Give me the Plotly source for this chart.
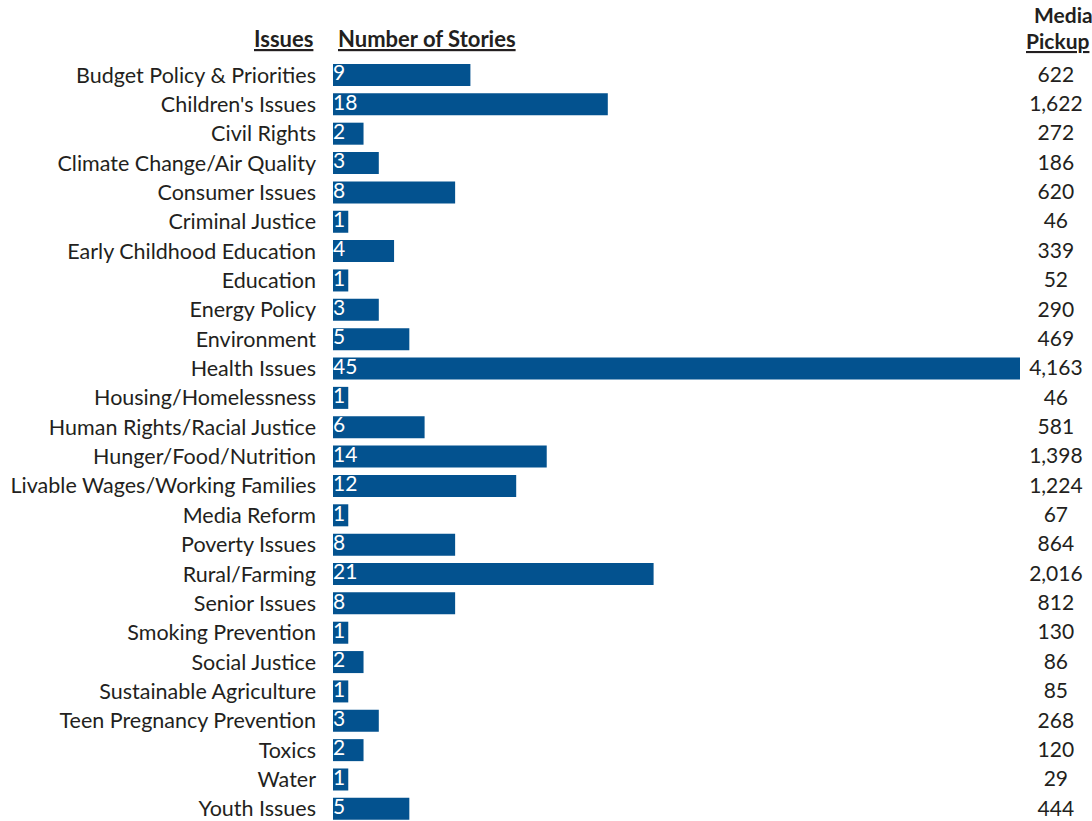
import plotly.graph_objects as go

issues = ["Budget Policy & Priorities", "Children's Issues", "Civil Rights", "Climate Change/Air Quality",
          "Consumer Issues", "Criminal Justice", "Early Childhood Education", "Education", "Energy Policy",
          "Environment", "Health Issues", "Housing/Homelessness", "Human Rights/Racial Justice",
          "Hunger/Food/Nutrition", "Livable Wages/Working Families", "Media Reform", "Poverty Issues",
          "Rural/Farming", "Senior Issues", "Smoking Prevention", "Social Justice", "Sustainable Agriculture",
          "Teen Pregnancy Prevention", "Toxics", "Water", "Youth Issues"]
stories = [9, 18, 2, 3, 8, 1, 4, 1, 3, 5, 45, 1, 6, 14, 12, 1, 8, 21, 8, 1, 2, 1, 3, 2, 1, 5]
pickup = [622, 1622, 272, 186, 620, 46, 339, 52, 290, 469, 4163, 46, 581, 1398, 1224, 67, 864, 2016,
          812, 130, 86, 85, 268, 120, 29, 444]

FONT = "Lato"
TXT = "#231f20"
BAR = "#03528f"

idx = list(range(len(issues)))

fig = go.Figure()
fig.add_trace(go.Bar(
    x=stories, y=idx, orientation="h", width=0.75,
    marker=dict(color=BAR, line=dict(width=0)),
    hoverinfo="skip", showlegend=False,
))
# numbers inside bars
fig.add_trace(go.Scatter(
    x=[0] * len(stories), y=idx, mode="text", text=[str(s) for s in stories],
    textposition="middle right", textfont=dict(family=FONT, size=21, color="white"),
    cliponaxis=False, showlegend=False, hoverinfo="skip",
))
# media pickup column
fig.add_trace(go.Scatter(
    x=[47.35] * len(pickup), y=[i + 0.05 for i in idx], mode="text", text=[f"{p:,}" for p in pickup],
    textposition="middle center", textfont=dict(family=FONT, size=21, color=TXT),
    cliponaxis=False, showlegend=False, hoverinfo="skip",
))

fig.update_layout(
    width=1092, height=821,
    margin=dict(l=333, r=0, t=50, b=1),
    paper_bgcolor="white", plot_bgcolor="white",
    font=dict(family=FONT, color=TXT, size=21),
    xaxis=dict(range=[0, 49.716], visible=False, fixedrange=True),
    yaxis=dict(range=[25.38, -0.851], tickmode="array", tickvals=idx, ticktext=issues,
               showgrid=False, zeroline=False, showline=False, ticks="",
               ticklabeloverflow="allow",
               ticklabelstandoff=16, tickfont=dict(family=FONT, size=21.5, color=TXT)),
    annotations=[
        dict(text="<u>Issues</u>", xref="paper", yref="paper", x=-0.0237, y=1.0, xanchor="right",
             yanchor="bottom", yshift=-4, showarrow=False,
             font=dict(family=FONT, size=22, color=TXT, weight="bold")),
        dict(text="<u>Number of Stories</u>", xref="paper", yref="paper", x=0.004, y=1.0,
             xanchor="left", yanchor="bottom", yshift=-4, showarrow=False,
             font=dict(family=FONT, size=22, color=TXT, weight="bold")),
        dict(text="<u>Pickup</u>", xref="paper", yref="paper", x=0.9985, y=1.0,
             xanchor="right", yanchor="bottom", yshift=-5, showarrow=False,
             font=dict(family=FONT, size=21, color=TXT, weight="bold")),
        dict(text="Media", xref="paper", yref="paper", x=0.962, y=1.0,
             xanchor="center", yanchor="bottom", yshift=21, showarrow=False,
             font=dict(family=FONT, size=21, color=TXT, weight="bold")),
    ],
)

fig.write_html("out.html")
